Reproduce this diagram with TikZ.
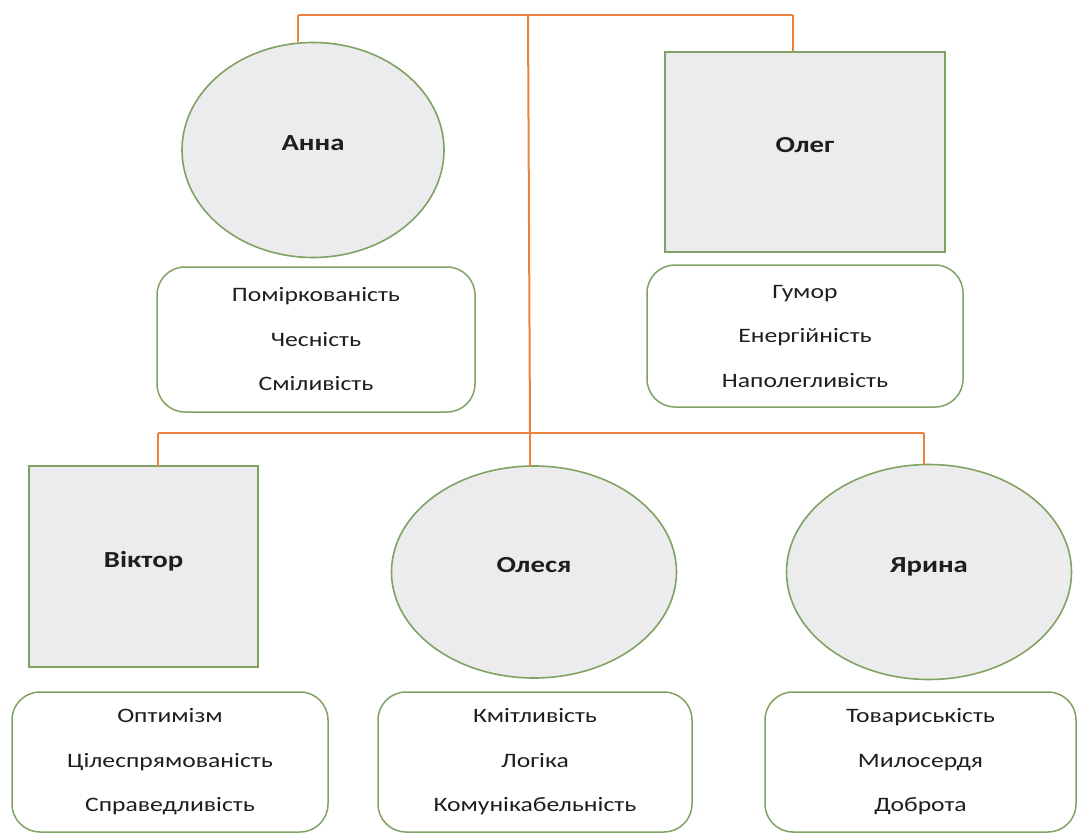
\documentclass[tikz,border=0pt]{standalone}
\usepackage{fontspec}
\setmainfont{Carlito}[FakeStretch=1.25]
\usetikzlibrary{shapes.geometric}
\definecolor{linkor}{RGB}{235,130,60}
\definecolor{edgegr}{RGB}{128,162,98}
\definecolor{shapegray}{RGB}{236,236,238}
\definecolor{txt}{RGB}{30,30,30}
\tikzset{
  person/.style={draw=edgegr, line width=1.6pt, fill=shapegray, inner sep=0pt, outer sep=0pt,
    text=txt, font=\fontsize{23}{27}\selectfont\bfseries, text height=15pt, text depth=14pt},
  oval/.style={person, ellipse},
  sq/.style={person, rectangle},
  traits/.style={draw=edgegr, line width=1.5pt, fill=white, rounded corners=28pt, rectangle,
    inner sep=0pt, outer sep=0pt, align=center, text=txt, font=\fontsize{20.5}{44.5}\selectfont},
  link/.style={draw=linkor, line width=2pt}
}
\begin{document}
\begin{tikzpicture}[x=1pt, y=-1pt]
\useasboundingbox (0,0) rectangle (1078,834);
% persons
\node[oval, minimum width=262pt, minimum height=215pt] (anna) at (313,150) {Анна};
\node[sq, minimum width=280pt, minimum height=200pt] (oleg) at (805,152) {Олег};
\node[sq, minimum width=229pt, minimum height=201pt] (viktor) at (143.5,566.5) {Віктор};
\node[oval, minimum width=285pt, minimum height=212pt] (olesya) at (534,572) {Олеся};
\node[oval, minimum width=285pt, minimum height=215pt] (yaryna) at (929,572) {Ярина};
% traits
\node[traits, minimum width=318pt, minimum height=145pt] (annat) at (316,339.5)
  {Поміркованість\\Чесність\\Сміливість};
\node[traits, minimum width=316pt, minimum height=142pt] (olegt) at (805,336)
  {Гумор\\Енергійність\\Наполегливість};
\node[traits, minimum width=316pt, minimum height=140pt] (viktort) at (170,762)
  {Оптимізм\\Цілеспрямованість\\Справедливість};
\node[traits, minimum width=314pt, minimum height=140pt] (olesyat) at (535,762)
  {Кмітливість\\Логіка\\Комунікабельність};
\node[traits, minimum width=311pt, minimum height=140pt] (yarynat) at (920.5,762)
  {Товариськість\\Милосердя\\Доброта};
% connectors
\coordinate (tl) at (298,15);
\coordinate (tm) at (528,15);
\coordinate (tr) at (793,15);
\coordinate (bl) at (158,433);
\coordinate (bm) at (530,433);
\coordinate (br) at (924,433);
\draw[link] (tl) -- (tr);
\draw[link] (tl) -- (tl |- anna.north);
\draw[link] (tr) -- (tr |- oleg.north);
\draw[link] (tm) -- (bm);
\draw[link] (bl) -- (br);
\draw[link] (bl) -- (bl |- viktor.north);
\draw[link] (bm) -- (bm |- olesya.north);
\draw[link] (br) -- (br |- yaryna.north);
\end{tikzpicture}
\end{document}
